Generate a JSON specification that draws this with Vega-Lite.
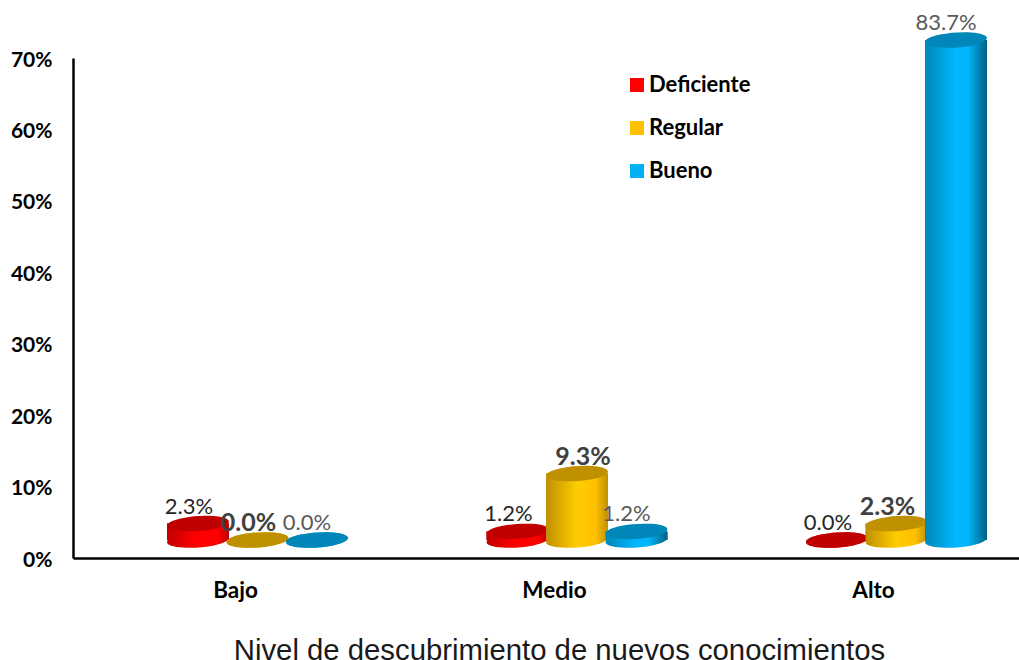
{"$schema":"https://vega.github.io/schema/vega-lite/v6.json","width":946,"height":518,"autosize":"none","padding":{"left":73,"top":40,"right":0,"bottom":102},"background":"white",
"datasets":{"d":[
{"nivel":"Bajo","serie":"Deficiente","valor":0.023},{"nivel":"Bajo","serie":"Regular","valor":0.0},{"nivel":"Bajo","serie":"Bueno","valor":0.0},
{"nivel":"Medio","serie":"Deficiente","valor":0.012},{"nivel":"Medio","serie":"Regular","valor":0.093},{"nivel":"Medio","serie":"Bueno","valor":0.012},
{"nivel":"Alto","serie":"Deficiente","valor":0.0},{"nivel":"Alto","serie":"Regular","valor":0.023},{"nivel":"Alto","serie":"Bueno","valor":0.837}]},
"data":{"name":"d"},
"config":{"view":{"stroke":null}},
"resolve":{"scale":{"x":"independent","y":"independent"},"axis":{"x":"independent","y":"independent"}},
"layer":[
{"mark":{"type":"point","opacity":0},
"encoding":{
"x":{"field":"nivel","type":"nominal","sort":["Bajo","Medio","Alto"],"scale":{"type":"point","domain":["Bajo","Medio","Alto"],"padding":0.4828,"align":0.526},
"axis":{"title":"Nivel de descubrimiento de nuevos conocimientos","titleFont":"Liberation Sans","titleFontSize":29.3,"titleFontWeight":"normal","titleColor":"#1a1a1a","titleX":486,"titleY":101,"titleBaseline":"alphabetic","labelFont":"Lato","labelFontSize":22.5,"labelFontWeight":"bold","labelColor":"#000000","labelAngle":0,"labelPadding":21,"ticks":false,"grid":false,"domainColor":"#000000","domainWidth":2.5}},
"y":{"field":"valor","type":"quantitative","scale":{"domain":[0,0.7],"range":[518,18],"clamp":true},
"axis":{"title":null,"values":[0,0.1,0.2,0.3,0.4,0.5,0.6,0.7],"format":".0%","labelFont":"Lato","labelFontSize":21,"labelFontWeight":"bold","labelColor":"#000000","labelPadding":21,"labelOffset":2,"ticks":false,"grid":false,"domainColor":"#000000","domainWidth":2.5}}}},
{"encoding":{
"x":{"field":"nivel","type":"nominal","scale":{"type":"band","domain":["Bajo","Medio","Alto"],"range":[24.75,983.25],"paddingInner":0,"paddingOuter":0},"axis":null},
"xOffset":{"field":"serie","type":"nominal","scale":{"type":"band","domain":["Deficiente","Regular","Bueno"],"range":[70.5,249],"padding":0}},
"y":{"field":"valor","type":"quantitative","stack":null,"scale":{"domain":[0,0.7],"range":[500,0],"clamp":true},"axis":null}},
"layer":[
{"mark":{"type":"bar","width":62,"clip":false},"encoding":{"color":{"field":"serie","type":"nominal","scale":{"domain":["Deficiente","Regular","Bueno"],"range":["#ff0000","#ffc000","#00b0f0"]},
"legend":{"orient":"none","legendX":553,"legendY":34,"title":null,"symbolType":"square","symbolSize":196,"symbolStrokeWidth":0,"symbolOpacity":1,"labelFont":"Lato","labelFontSize":22,"labelFontWeight":"bold","labelColor":"#000000","labelOffset":1,"rowPadding":21,"padding":0}}}},
{"transform":[{"filter":"datum.serie==='Deficiente'"}],"layer":[
{"mark":{"type":"point","filled":true,"opacity":1,"size":3844,"shape":"M-0.9975,0.07 A1,0.24 -4 1 1 0.9975,-0.07 A1,0.24 -4 1 1 -0.9975,0.07 Z","fill":{"gradient":"linear","x1":0,"x2":1,"y1":0,"y2":0,"stops":[{"offset":0,"color":"#c00000"},{"offset":0.45,"color":"#ff0000"},{"offset":0.8,"color":"#ff0000"},{"offset":1,"color":"#c00000"}]}},"encoding":{"y":{"datum":0}}},
{"mark":{"type":"bar","width":62,"fill":{"gradient":"linear","x1":0,"x2":1,"y1":0,"y2":0,"stops":[{"offset":0,"color":"#c00000"},{"offset":0.45,"color":"#ff0000"},{"offset":0.8,"color":"#ff0000"},{"offset":1,"color":"#c00000"}]}}},
{"mark":{"type":"point","filled":true,"opacity":1,"size":3844,"shape":"M-0.9975,0.07 A1,0.24 -4 1 1 0.9975,-0.07 A1,0.24 -4 1 1 -0.9975,0.07 Z","fill":"#c00000"}}]},
{"transform":[{"filter":"datum.serie==='Regular'"}],"layer":[
{"mark":{"type":"point","filled":true,"opacity":1,"size":3844,"shape":"M-0.9975,0.07 A1,0.24 -4 1 1 0.9975,-0.07 A1,0.24 -4 1 1 -0.9975,0.07 Z","fill":{"gradient":"linear","x1":0,"x2":1,"y1":0,"y2":0,"stops":[{"offset":0,"color":"#bf9000"},{"offset":0.5,"color":"#ffcc00"},{"offset":0.8,"color":"#ffc000"},{"offset":1,"color":"#bf9000"}]}},"encoding":{"y":{"datum":0}}},
{"mark":{"type":"bar","width":62,"fill":{"gradient":"linear","x1":0,"x2":1,"y1":0,"y2":0,"stops":[{"offset":0,"color":"#bf9000"},{"offset":0.5,"color":"#ffcc00"},{"offset":0.8,"color":"#ffc000"},{"offset":1,"color":"#bf9000"}]}}},
{"mark":{"type":"point","filled":true,"opacity":1,"size":3844,"shape":"M-0.9975,0.07 A1,0.24 -4 1 1 0.9975,-0.07 A1,0.24 -4 1 1 -0.9975,0.07 Z","fill":"#bf9000"}}]},
{"transform":[{"filter":"datum.serie==='Bueno'"}],"layer":[
{"mark":{"type":"point","filled":true,"opacity":1,"size":3844,"shape":"M-0.9975,0.07 A1,0.24 -4 1 1 0.9975,-0.07 A1,0.24 -4 1 1 -0.9975,0.07 Z","fill":{"gradient":"linear","x1":0,"x2":1,"y1":0,"y2":0,"stops":[{"offset":0,"color":"#0087b8"},{"offset":0.5,"color":"#00b8ff"},{"offset":0.7,"color":"#00b4f8"},{"offset":1,"color":"#005f80"}]}},"encoding":{"y":{"datum":0}}},
{"mark":{"type":"bar","width":62,"fill":{"gradient":"linear","x1":0,"x2":1,"y1":0,"y2":0,"stops":[{"offset":0,"color":"#0087b8"},{"offset":0.5,"color":"#00b8ff"},{"offset":0.7,"color":"#00b4f8"},{"offset":1,"color":"#005f80"}]}}},
{"mark":{"type":"point","filled":true,"opacity":1,"size":3844,"shape":"M-0.9975,0.07 A1,0.24 -4 1 1 0.9975,-0.07 A1,0.24 -4 1 1 -0.9975,0.07 Z","fill":"#0086b8"}}]},
{"transform":[{"filter":"datum.serie==='Deficiente'"}],"mark":{"type":"text","font":"Lato","fontSize":22,"color":"#262626","dx":-9,"dy":-17,"baseline":"middle"},"encoding":{"text":{"field":"valor","type":"quantitative","format":".1%"}}},
{"transform":[{"filter":"datum.serie==='Regular' && datum.nivel!=='Medio'"}],"mark":{"type":"text","font":"Lato","fontSize":25,"fontWeight":"bold","color":"#404040","dx":-9,"dy":-17,"baseline":"middle"},"encoding":{"text":{"field":"valor","type":"quantitative","format":".1%"}}},
{"transform":[{"filter":"datum.serie==='Regular' && datum.nivel==='Medio'"}],"mark":{"type":"text","font":"Lato","fontSize":25,"fontWeight":"bold","color":"#404040","dx":6,"dy":-17,"baseline":"middle"},"encoding":{"text":{"field":"valor","type":"quantitative","format":".1%"}}},
{"transform":[{"filter":"datum.serie==='Bueno'"}],"mark":{"type":"text","font":"Lato","fontSize":22,"color":"#595959","dx":-10,"dy":-17,"baseline":"middle"},"encoding":{"text":{"field":"valor","type":"quantitative","format":".1%"}}}
]}
]}
